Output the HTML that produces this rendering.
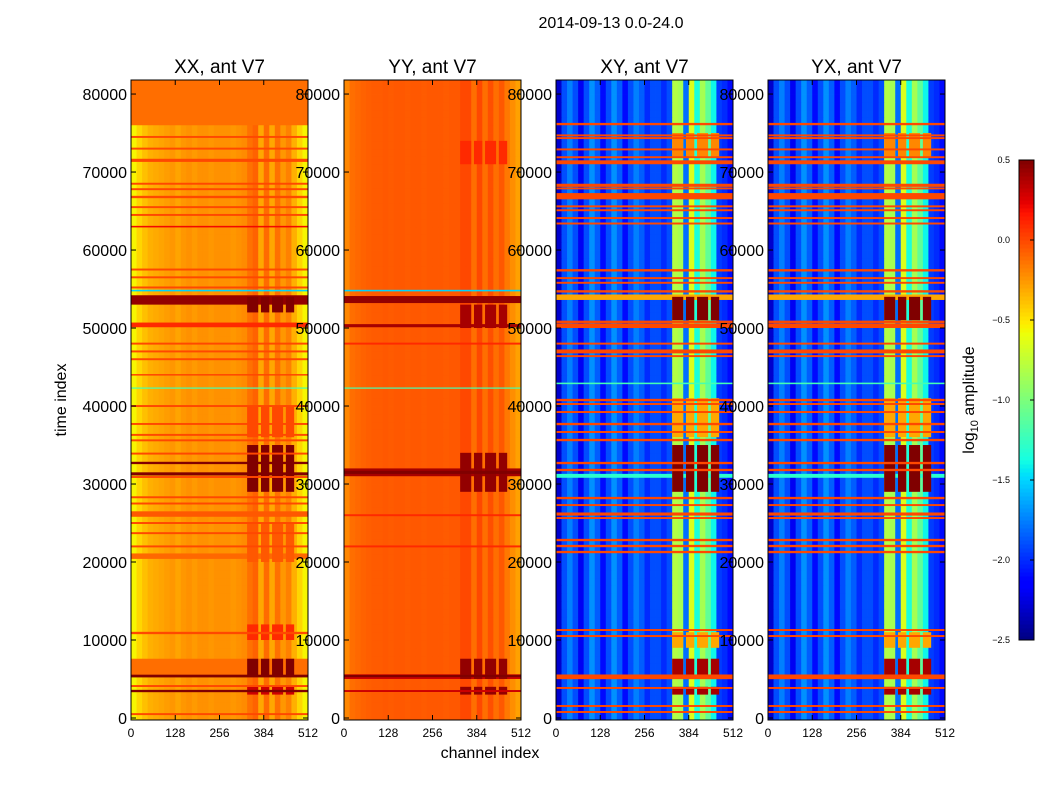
<!DOCTYPE html>
<html><head><meta charset="utf-8">
<style>
body{margin:0;background:#fff;}
svg{display:block;font-family:"Liberation Sans","DejaVu Sans",sans-serif;}
</style></head>
<body>
<svg id="fig" width="1050" height="800" viewBox="0 0 1050 800">
<rect width="1050" height="800" fill="#fff"/>
<text x="611" y="28" font-size="16" text-anchor="middle">2014-09-13 0.0-24.0</text>
<text x="66" y="400" font-size="16" text-anchor="middle" transform="rotate(-90 66 400)">time index</text>
<text x="490" y="758" font-size="16" text-anchor="middle">channel index</text>
<text x="974" y="400" font-size="16" text-anchor="middle" transform="rotate(-90 974 400)">log<tspan font-size="11" dy="4">10</tspan><tspan dy="-4"> amplitude</tspan></text>
<g id="panels"></g>
<g id="cbar"></g>
</svg>
<script>
// ---- data ----
const panelTitles = ["XX, ant V7","YY, ant V7","XY, ant V7","YX, ant V7"];
const yTicks = [0,10000,20000,30000,40000,50000,60000,70000,80000];
const xTicks = [0,128,256,384,512];
const cbarTicks = [0.5,0.0,-0.5,-1.0,-1.5,-2.0,-2.5];
const cbarTickLabels = ["0.5","0.0","\u22120.5","\u22121.0","\u22121.5","\u22122.0","\u22122.5"];
const rfiCols = [[336,368],[376,400],[408,440],[448,472]];

const xxCols = [-0.55,-0.45,-0.38,-0.33,-0.31,-0.29,-0.27,-0.25,-0.29,-0.25,-0.23,-0.26,-0.23,-0.23,-0.25,-0.23,-0.23,-0.23,-0.25,-0.23,-0.21,-0.13,-0.08,-0.3,-0.11,-0.3,-0.13,-0.25,-0.18,-0.33,-0.45,-0.55];
const yyCols = [-0.2,-0.12,-0.1,-0.08,-0.07,-0.06,-0.06,-0.05,-0.06,-0.05,-0.05,-0.06,-0.05,-0.05,-0.06,-0.05,-0.05,-0.05,-0.06,-0.05,-0.05,0.0,0.0,-0.12,0.0,-0.12,-0.02,-0.12,-0.05,-0.15,-0.22,-0.28];
const xyCols = [-2.3,-1.9,-1.75,-1.9,-2.2,-1.9,-1.7,-1.85,-2.1,-1.9,-1.7,-1.85,-2.1,-1.9,-1.75,-1.85,-2.0,-1.9,-1.9,-2.0,-1.9,-0.8,-0.85,-1.8,-0.65,-1.35,-0.85,-1.1,-1.4,-1.95,-2.0,-2.1];
const yxCols = [-2.3,-1.9,-1.75,-1.9,-2.2,-1.9,-1.7,-1.85,-2.1,-1.9,-1.7,-1.85,-2.1,-1.9,-1.75,-1.85,-2.0,-1.9,-1.9,-2.0,-1.9,-0.8,-0.85,-1.8,-0.65,-1.35,-0.85,-1.1,-1.4,-1.95,-2.0,-2.1];

// full-width bands [t0, t1, value]
const xxBands = [[76000,82000,-0.12],[53000,54200,0.45],[50100,50700,0.1],[25800,26500,-0.05],[20400,21100,-0.1],[5500,7600,-0.12]];
const yyBands = [[53200,54100,0.45],[31000,32000,0.4],[5000,5600,0.3]];
const xyBands = [[53600,54300,-0.3],[50000,50600,0.0],[30800,31300,-1.3]];
const yxBands = [[53600,54300,-0.3],[50000,50600,0.0],[30800,31300,-1.3]];

// RFI-column blobs [t0, t1, value]
const xxBlobs = [[52000,54000,0.5],[36000,40000,0.0],[29000,35000,0.5],[20000,25000,-0.05],[10000,12000,0.1],[5500,7600,0.5],[3000,4000,0.3]];
const yyBlobs = [[71000,74000,0.1],[50000,53000,0.4],[29000,34000,0.45],[5000,7600,0.45],[3000,4000,0.45]];
const xyBlobs = [[72000,75000,-0.2],[51000,54000,0.5],[36000,41000,-0.3],[29000,35000,0.5],[9000,11000,-0.3],[5000,7600,0.4],[3000,4000,0.4]];
const yxBlobs = [[72000,75000,-0.2],[51000,54000,0.5],[36000,41000,-0.3],[29000,35000,0.5],[9000,11000,-0.3],[5000,7600,0.4],[3000,4000,0.4]];

// thin stripes [t, thickness, value]
const xxStripes = [[74500,250,0.0],[73000,250,0.0],[71500,400,0.0],[68500,250,0.0],[67800,250,0.0],[66800,300,0.0],[65500,250,0.0],[64500,250,0.0],[63000,200,0.2],[57500,250,0.0],[56500,250,0.0],[55200,250,0.0],[54800,200,-1.5],[48000,250,0.0],[47000,250,0.0],[46000,250,0.0],[44000,200,0.0],[42300,150,-1.2],[40000,250,0.0],[37700,250,0.0],[36300,250,0.0],[35600,250,0.0],[33900,250,0.0],[32700,300,0.5],[31300,400,0.5],[30900,250,0.0],[28300,250,0.0],[27500,250,0.0],[25000,250,0.0],[23700,250,0.0],[22000,250,0.0],[10900,300,0.0],[5380,350,0.5],[4100,250,0.0],[3460,300,0.5],[500,250,0.0]];
const yyStripes = [[54800,200,-1.5],[50300,400,0.4],[48000,250,0.1],[42300,150,-1.2],[31500,400,0.5],[26000,250,0.1],[22000,250,0.1],[5380,300,0.5],[3460,250,0.3]];
const xyStripes = [[76150,300,0.0],[74700,250,0.0],[74350,250,0.0],[72900,250,0.0],[71900,250,0.0],[71250,500,0.0],[68300,400,0.0],[67900,250,0.0],[66900,800,0.0],[65600,250,0.0],[65100,250,0.0],[64100,250,0.0],[63400,250,0.0],[57400,300,0.0],[56400,250,0.0],[55800,250,0.0],[54700,300,0.0],[50800,300,0.0],[48000,250,0.0],[47000,500,0.0],[46400,250,0.0],[42900,200,-1.2],[40770,300,0.0],[40260,250,0.0],[39230,250,0.0],[37690,300,0.0],[36670,250,0.0],[35640,300,0.0],[32690,300,0.0],[31800,300,0.0],[28200,300,0.0],[27300,250,0.0],[26150,400,0.0],[25640,250,0.0],[22820,300,0.0],[22050,300,0.0],[21280,300,0.0],[11280,250,0.0],[10510,250,0.0],[5380,400,0.0],[5130,300,0.0],[3850,250,0.0],[1540,250,0.0],[770,250,0.0]];
const yxStripes = xyStripes.slice();

const panelCols = [xxCols, yyCols, xyCols, yxCols];
const panelBands = [xxBands, yyBands, xyBands, yxBands];
const panelBlobs = [xxBlobs, yyBlobs, xyBlobs, yxBlobs];
const panelStripes = [xxStripes, yyStripes, xyStripes, yxStripes];
const panelNames = ["xx","yy","xy","yx"];

// ---- layout ----
const panelLeft = [131, 344, 556, 768];
const panelW = 177, panelTop = 80, panelBot = 720;
const tMax = 81800, tMin = -256;
const vMin = -2.5, vMax = 0.5;
const NS = "http://www.w3.org/2000/svg";

function yScale(t){ return panelBot - (t - tMin) / (tMax - tMin) * (panelBot - panelTop); }
function xScale(left, c){ return left + c / 512 * panelW; }

function interp(pts, x){
  for (let i=1;i<pts.length;i++){
    if (x <= pts[i][0]){ const a=pts[i-1], b=pts[i]; return a[1] + (b[1]-a[1])*(x-a[0])/(b[0]-a[0]); }
  }
  return pts[pts.length-1][1];
}
function jet(v){
  let x = (v - vMin)/(vMax - vMin); x = Math.max(0, Math.min(1, x));
  const r = interp([[0,0],[0.35,0],[0.66,1],[0.89,1],[1,0.5]], x);
  const g = interp([[0,0],[0.125,0],[0.375,1],[0.64,1],[0.91,0],[1,0]], x);
  const b = interp([[0,0.5],[0.11,1],[0.34,1],[0.65,0],[1,0]], x);
  return `rgb(${Math.round(r*255)},${Math.round(g*255)},${Math.round(b*255)})`;
}
function mk(tag, attrs, parent){
  const e = document.createElementNS(NS, tag);
  for (const k in attrs) e.setAttribute(k, attrs[k]);
  parent.appendChild(e); return e;
}

const panelsG = document.getElementById('panels');
const defs = mk('defs', {}, panelsG);
const labelLayer = [];

panelLeft.forEach((left, p) => {
  const cols = panelCols[p];
  const cp = mk('clipPath', {id:'clip'+p}, defs);
  mk('rect', {x:left, y:panelTop, width:panelW, height:panelBot-panelTop}, cp);
  const g = mk('g', {'clip-path':`url(#clip${p})`}, panelsG);
  
  
  const binW = 512 / cols.length;
  for (let t = 0; t < 82000; t += 1000) {
    for (let b = 0; b < cols.length; b++) {
      const x0 = xScale(left, b*binW), x1 = xScale(left, (b+1)*binW);
      const y0 = yScale(t+1000), y1 = yScale(t);
      const r = mk('rect', {x:x0, y:y0, width:x1-x0+0.4, height:y1-y0+0.4, fill:jet(cols[b])}, g);
      
      
    }
  }
  for (let b = 0; b < cols.length; b++) {
    const x0 = xScale(left, b*binW), x1 = xScale(left, (b+1)*binW);
    mk('rect', {x:x0, y:yScale(0), width:x1-x0+0.4, height:yScale(tMin)-yScale(0)+1, fill:jet(cols[b])}, g);
  }
  panelBands[p].forEach(bd => {
    const r = mk('rect', {x:left, y:yScale(bd[1]), width:panelW, height:yScale(bd[0])-yScale(bd[1]), fill:jet(bd[2])}, g);
    
    
  });
  panelBlobs[p].forEach(bl => {
    rfiCols.forEach(rc => {
      const r = mk('rect', {x:xScale(left, rc[0]), y:yScale(bl[1]), width:xScale(left, rc[1])-xScale(left, rc[0]), height:yScale(bl[0])-yScale(bl[1]), fill:jet(bl[2])}, g);
      
      
    });
  });
  panelStripes[p].forEach(s => {
    const h = Math.max(1.2, yScale(s[0]-s[1]/2) - yScale(s[0]+s[1]/2));
    const r = mk('rect', {x:left, y:yScale(s[0]) - h/2, width:panelW, height:h, fill:jet(s[2])}, g);
    
    
  });
  const fr = mk('rect', {x:left, y:panelTop, width:panelW, height:panelBot-panelTop, fill:'none', stroke:'#000', 'stroke-width':1}, panelsG);
  
  
  yTicks.forEach(t => {
    const y = yScale(t);
    mk('line', {x1:left, x2:left+5, y1:y, y2:y, stroke:'#000'}, panelsG);
    mk('line', {x1:left+panelW-5, x2:left+panelW, y1:y, y2:y, stroke:'#000'}, panelsG);
  });
  xTicks.forEach(c => {
    const x = xScale(left, c);
    mk('line', {x1:x, x2:x, y1:panelBot, y2:panelBot-5, stroke:'#000'}, panelsG);
    mk('line', {x1:x, x2:x, y1:panelTop, y2:panelTop+5, stroke:'#000'}, panelsG);
  });
  labelLayer.push([left, p]);
});

labelLayer.forEach(([left, p]) => {
  const tt = mk('text', {x:left+panelW/2, y:73, 'font-size':19, 'text-anchor':'middle'}, panelsG);
  tt.textContent = panelTitles[p];
  
  
  yTicks.forEach(t => {
    const l = mk('text', {x:left-4, y:yScale(t)+6, 'font-size':16, 'text-anchor':'end'}, panelsG);
    l.textContent = String(t);
    
    
  });
  xTicks.forEach(c => {
    const l = mk('text', {x:xScale(left, c), y:737, 'font-size':12, 'text-anchor':'middle'}, panelsG);
    l.textContent = String(c);
    
    
  });
});

// colorbar
const cb = document.getElementById('cbar');
const cbX = 1019, cbW = 15, cbTop = 160, cbBot = 640;
function cbScale(v){ return cbBot - (v - vMin)/(vMax - vMin)*(cbBot - cbTop); }
for (let i = 0; i < 120; i++) {
  const v0 = vMin + (vMax - vMin) * i / 120, v1 = vMin + (vMax - vMin) * (i+1) / 120;
  const r = mk('rect', {x:cbX, y:cbScale(v1), width:cbW, height:cbScale(v0)-cbScale(v1)+0.5, fill:jet((v0+v1)/2)}, cb);
  
  
}
const cbf = mk('rect', {x:cbX, y:cbTop, width:cbW, height:cbBot-cbTop, fill:'none', stroke:'#000'}, cb);


cbarTicks.forEach((v, i) => {
  const y = cbScale(v);
  mk('line', {x1:cbX+cbW-4, x2:cbX+cbW, y1:y, y2:y, stroke:'#000'}, cb);
  const l = mk('text', {x:1010, y:y+3, 'font-size':9, 'text-anchor':'end'}, cb);
  l.textContent = cbarTickLabels[i];
  
  
});
</script>
</body></html>
